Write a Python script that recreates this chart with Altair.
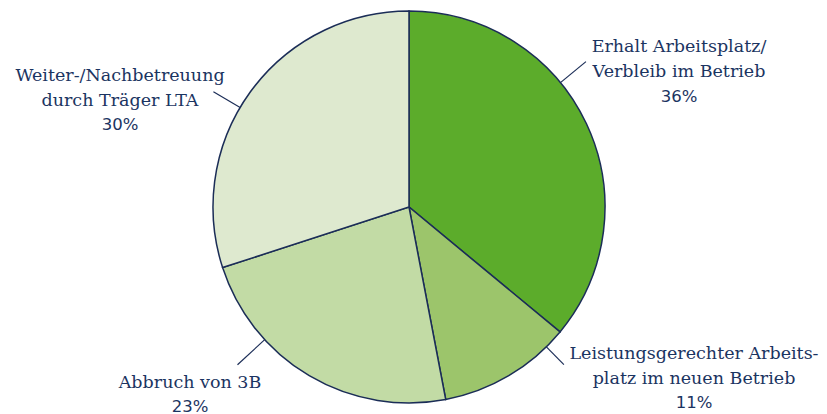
import math
import altair as alt
import pandas as pd

# ---- data ----
categories = [
    "Erhalt Arbeitsplatz/ Verbleib im Betrieb",
    "Leistungsgerechter Arbeitsplatz im neuen Betrieb",
    "Abbruch von 3B",
    "Weiter-/Nachbetreuung durch Träger LTA",
]
values = [36, 11, 23, 30]
label_lines = [
    ["Erhalt Arbeitsplatz/", "Verbleib im Betrieb"],
    ["Leistungsgerechter Arbeits-", "platz im neuen Betrieb"],
    ["Abbruch von 3B"],
    ["Weiter-/Nachbetreuung", "durch Träger LTA"],
]
percent_labels = ["36%", "11%", "23%", "30%"]

# ---- layout / style ----
W, H = 811, 406
CX, CY, R = 401, 199, 196
colors = ["#5cac2b", "#9cc56b", "#c2dba5", "#dee9cf"]
navy = "#1b3461"
stroke = "#1b2d57"
leader_angle = [50.6, 135.5, 227.4, 300.5]
leader_outer = [229, 221, 233, 227]
label_x = [671, 686, 182, 112]
label_first_baseline = [44, 351, 380, 73]
line_h = [25, 24.5, 23.5, 24.5]

pie_df = pd.DataFrame({"cat": categories, "value": values, "idx": range(len(values))})

lead_rows = []
for a, ro in zip(leader_angle, leader_outer):
    t = math.radians(a)
    lead_rows.append({
        "x": CX + R * math.sin(t), "y": CY - R * math.cos(t),
        "x2": CX + ro * math.sin(t), "y2": CY - ro * math.cos(t),
    })
lead_df = pd.DataFrame(lead_rows)

name_rows, pct_rows = [], []
for i, lines in enumerate(label_lines):
    for j, ln in enumerate(lines):
        name_rows.append({"t": ln, "x": label_x[i], "y": label_first_baseline[i] + j * line_h[i]})
    pct_rows.append({"t": percent_labels[i], "x": label_x[i],
                     "y": label_first_baseline[i] + len(lines) * line_h[i]})
name_df = pd.DataFrame(name_rows)
pct_df = pd.DataFrame(pct_rows)

pie = alt.Chart(pie_df).mark_arc(outerRadius=R, stroke=stroke, strokeWidth=1.5).encode(
    theta=alt.Theta("value:Q", stack=True),
    color=alt.Color("cat:N", scale=alt.Scale(domain=categories, range=colors), legend=None),
    order=alt.Order("idx:Q"),
    x=alt.value(CX),
    y=alt.value(CY),
)

leaders = alt.Chart(lead_df).mark_rule(color=stroke, strokeWidth=1.2).encode(
    x=alt.X("x:Q", scale=None), y=alt.Y("y:Q", scale=None),
    x2="x2:Q", y2="y2:Q",
)

names = alt.Chart(name_df).mark_text(
    font="DejaVu Serif", fontSize=17.5, color=navy, align="center", baseline="alphabetic"
).encode(x=alt.X("x:Q", scale=None), y=alt.Y("y:Q", scale=None), text="t:N")

pcts = alt.Chart(pct_df).mark_text(
    font="DejaVu Sans", fontSize=16.5, color=navy, align="center", baseline="alphabetic"
).encode(x=alt.X("x:Q", scale=None), y=alt.Y("y:Q", scale=None), text="t:N")

chart = alt.layer(pie, leaders, names, pcts).properties(
    width=W, height=H, padding=0, autosize=alt.AutoSizeParams(type="none")
).configure_view(stroke=None).configure_axis(disable=True)

chart.save("out.html", embed_options={"renderer": "svg", "actions": False})
